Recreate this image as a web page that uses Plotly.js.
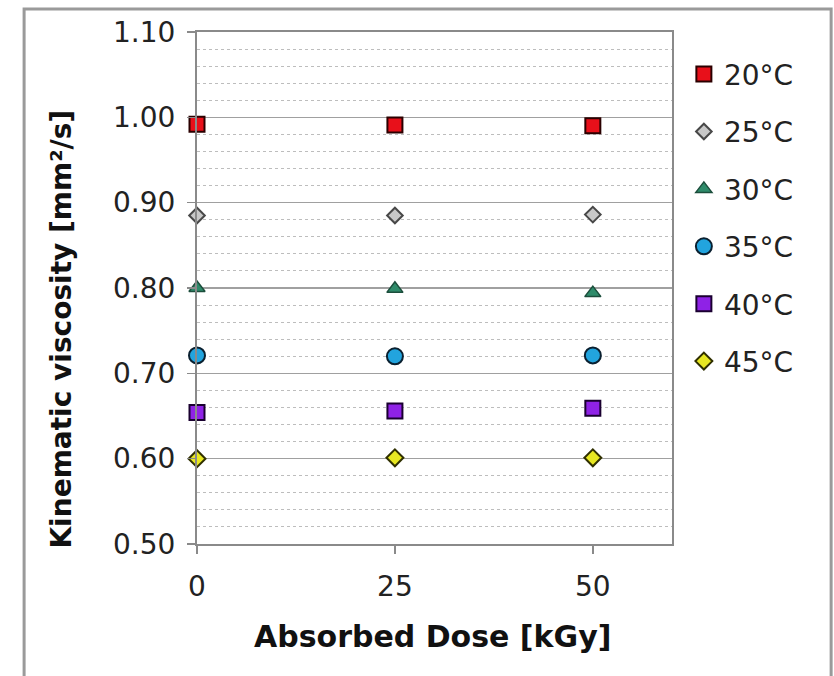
<!DOCTYPE html>
<html>
<head>
<meta charset="utf-8">
<script src="https://cdn.plot.ly/plotly-3.0.1.min.js"></script>
<style>html,body{margin:0;padding:0;background:#fff;}#chart{width:834px;height:676px;}</style>
</head>
<body>
<div id="chart"></div>
<script>
// Data
var doses = [0, 25, 50];
var seriesNames = ["20°C", "25°C", "30°C", "35°C", "40°C", "45°C"];
var v20 = [0.992, 0.991, 0.990];
var v25 = [0.885, 0.885, 0.886];
var v30 = [0.800, 0.799, 0.794];
var v35 = [0.721, 0.720, 0.721];
var v40 = [0.654, 0.656, 0.659];
var v45 = [0.600, 0.601, 0.601];
var xTickVals = [0, 25, 50];
var xTickText = ["0", "25", "50"];
var yTitle = "Kinematic viscosity [mm²/s]";
var xTitle = "Absorbed Dose [kGy]";

var values = [v20, v25, v30, v35, v40, v45];
var styles = [
  {symbol: "square", size: 15, color: "#E8101A", line: {color: "#2a0000", width: 2}},
  {symbol: "diamond", size: 12, color: "#C8C8C8", line: {color: "#484848", width: 2}},
  {symbol: "triangle-up", size: 14, color: "#2E8B6A", line: {color: "#1C4E3C", width: 1.5}},
  {symbol: "circle", size: 16, color: "#22A4DE", line: {color: "#0a2030", width: 2}},
  {symbol: "square", size: 15, color: "#8F22E6", line: {color: "#1a0030", width: 2}},
  {symbol: "diamond", size: 13, color: "#E8E822", line: {color: "#303000", width: 2}}
];
var font = "'DejaVu Sans', Verdana, sans-serif";

var traces = seriesNames.map(function (name, i) {
  return {
    type: "scatter", mode: "markers", name: name,
    x: doses, y: values[i], legendgroup: "g" + i,
    cliponaxis: false,
    marker: {symbol: styles[i].symbol, size: styles[i].size, color: styles[i].color, line: styles[i].line}
  };
});

var layout = {
  width: 834, height: 676,
  margin: {l: 197, r: 162, t: 32, b: 132},
  paper_bgcolor: "#ffffff", plot_bgcolor: "#ffffff",
  font: {family: font, color: "#222", size: 26},
  showlegend: true,
  legend: {x: 1.025, y: 0.966, xanchor: "left", yanchor: "top", font: {family: font, size: 28, color: "#222"},
           tracegroupgap: 18, itemwidth: 30, bgcolor: "rgba(0,0,0,0)"},
  xaxis: {
    range: [0, 60], tickvals: xTickVals, ticktext: xTickText,
    showgrid: false, zeroline: false,
    showline: true, linecolor: "#8a8a8a", linewidth: 2, mirror: true,
    ticks: "outside", ticklen: 8, tickcolor: "#8a8a8a", tickwidth: 1.5,
    ticklabelstandoff: 8,
    tickfont: {family: font, size: 28, color: "#222"}
  },
  yaxis: {
    range: [0.5, 1.1], dtick: 0.1, tick0: 0.5, tickformat: ".2f",
    showgrid: true, gridcolor: "#A0A0A0", gridwidth: 1.5, zeroline: false,
    showline: true, linecolor: "#8a8a8a", linewidth: 2, mirror: true,
    ticks: "outside", ticklen: 8, tickcolor: "#8a8a8a", tickwidth: 1.5,
    ticklabelstandoff: 6,
    tickfont: {family: font, size: 28, color: "#222"},
    minor: {dtick: 0.02, showgrid: true, gridcolor: "#BDBDBD", gridwidth: 1, griddash: "3px,3px"}
  },
  annotations: [
    {text: "<b>" + yTitle + "</b>", xref: "paper", yref: "paper", x: -0.285, y: 0.42,
     xanchor: "center", yanchor: "middle", textangle: -90, showarrow: false,
     font: {family: font, size: 28, color: "#111"}},
    {text: "<b>" + xTitle + "</b>", xref: "paper", yref: "paper", x: 0.495, y: -0.18,
     xanchor: "center", yanchor: "middle", showarrow: false,
     font: {family: font, size: 30, color: "#111"}}
  ],
  shapes: [
    {type: "rect", xref: "paper", yref: "paper", x0: -0.364, x1: 1.335, y0: -0.3, y1: 1.045,
     line: {color: "#9a9a9a", width: 3}, fillcolor: "rgba(0,0,0,0)", layer: "below"}
  ]
};

Plotly.newPlot("chart", traces, layout, {displayModeBar: false, staticPlot: true});
</script>
</body>
</html>
